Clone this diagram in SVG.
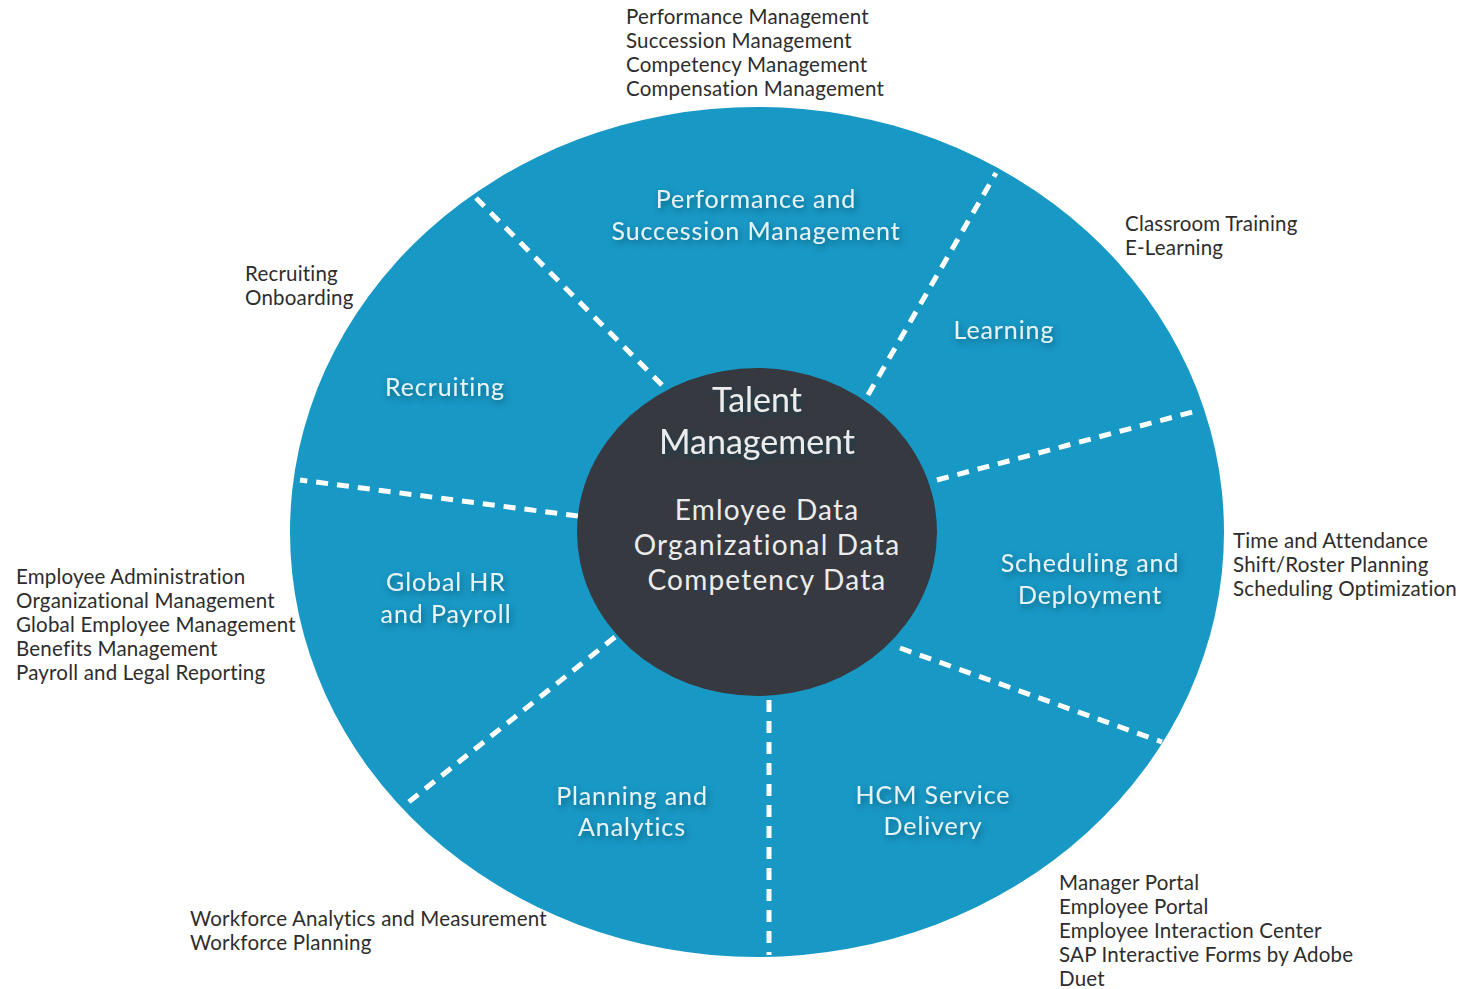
<svg xmlns="http://www.w3.org/2000/svg" width="1467" height="989" viewBox="0 0 1467 989">
<defs>
<filter id="sh" x="-20%" y="-40%" width="140%" height="180%">
<feDropShadow dx="2" dy="3" stdDeviation="3" flood-color="#0a3a50" flood-opacity="0.6"/>
</filter>
<style>
.seg{font-family:Lato,"Open Sans",sans-serif;font-size:25px;fill:#e6f4f8;text-anchor:middle;letter-spacing:0.9px}
.core{font-family:Lato,"Open Sans",sans-serif;fill:#ececec;text-anchor:middle}
.ext{font-family:Lato,"Open Sans",sans-serif;font-size:20.5px;fill:#2d2d2d;letter-spacing:0.2px}
.div{stroke:#ffffff;stroke-width:5;stroke-dasharray:12 9;fill:none}
</style>
</defs>
<rect width="1467" height="989" fill="#ffffff"/>
<g id="wheel">
<ellipse cx="757" cy="532" rx="467" ry="425" fill="#1898c5"/>
</g>
<g id="connectors">
<line class="div" x1="662" y1="385" x2="476" y2="198"/>
<line class="div" x1="868" y1="395" x2="996" y2="173"/>
<line class="div" x1="937" y1="480" x2="1200" y2="410"/>
<line class="div" x1="900" y1="648" x2="1162" y2="742"/>
<line class="div" x1="769" y1="700" x2="769" y2="955"/>
<line class="div" x1="615" y1="637" x2="405" y2="805"/>
<line class="div" x1="578" y1="516" x2="300" y2="480"/>
</g>
<g id="core">
<ellipse cx="757" cy="532" rx="180" ry="164" fill="#363a40"/>
<text class="core" font-size="34" filter="url(#sh)"><tspan x="757" y="412">Talent</tspan><tspan x="757" y="454">Management</tspan></text>
<text class="core" font-size="28" letter-spacing="1.2"><tspan x="767" y="520">Emloyee Data</tspan><tspan x="767" y="555">Organizational Data</tspan><tspan x="767" y="590">Competency Data</tspan></text>
</g>
<g id="performance">
<text class="seg" filter="url(#sh)"><tspan x="756" y="208">Performance and</tspan><tspan x="756" y="240">Succession Management</tspan></text>
<text class="ext"><tspan x="626" y="24">Performance Management</tspan><tspan x="626" y="48">Succession Management</tspan><tspan x="626" y="72">Competency Management</tspan><tspan x="626" y="96">Compensation Management</tspan></text>
</g>
<g id="learning">
<text class="seg" filter="url(#sh)" x="1004" y="339">Learning</text>
<text class="ext"><tspan x="1125" y="231">Classroom Training</tspan><tspan x="1125" y="255">E-Learning</tspan></text>
</g>
<g id="recruiting">
<text class="seg" filter="url(#sh)" x="445" y="396">Recruiting</text>
<text class="ext"><tspan x="245" y="281">Recruiting</tspan><tspan x="245" y="305">Onboarding</tspan></text>
</g>
<g id="global-hr">
<text class="seg" filter="url(#sh)"><tspan x="446" y="591">Global HR</tspan><tspan x="446" y="623">and Payroll</tspan></text>
<text class="ext"><tspan x="16" y="584">Employee Administration</tspan><tspan x="16" y="608">Organizational Management</tspan><tspan x="16" y="632">Global Employee Management</tspan><tspan x="16" y="656">Benefits Management</tspan><tspan x="16" y="680">Payroll and Legal Reporting</tspan></text>
</g>
<g id="scheduling">
<text class="seg" filter="url(#sh)"><tspan x="1090" y="572">Scheduling and</tspan><tspan x="1090" y="604">Deployment</tspan></text>
<text class="ext"><tspan x="1233" y="548">Time and Attendance</tspan><tspan x="1233" y="572">Shift/Roster Planning</tspan><tspan x="1233" y="596">Scheduling Optimization</tspan></text>
</g>
<g id="planning">
<text class="seg" filter="url(#sh)"><tspan x="632" y="805">Planning and</tspan><tspan x="632" y="836">Analytics</tspan></text>
<text class="ext"><tspan x="190" y="926">Workforce Analytics and Measurement</tspan><tspan x="190" y="950">Workforce Planning</tspan></text>
</g>
<g id="hcm">
<text class="seg" filter="url(#sh)"><tspan x="933" y="804">HCM Service</tspan><tspan x="933" y="835">Delivery</tspan></text>
<text class="ext"><tspan x="1059" y="890">Manager Portal</tspan><tspan x="1059" y="914">Employee Portal</tspan><tspan x="1059" y="938">Employee Interaction Center</tspan><tspan x="1059" y="962">SAP Interactive Forms by Adobe</tspan><tspan x="1059" y="986">Duet</tspan></text>
</g>
</svg>
